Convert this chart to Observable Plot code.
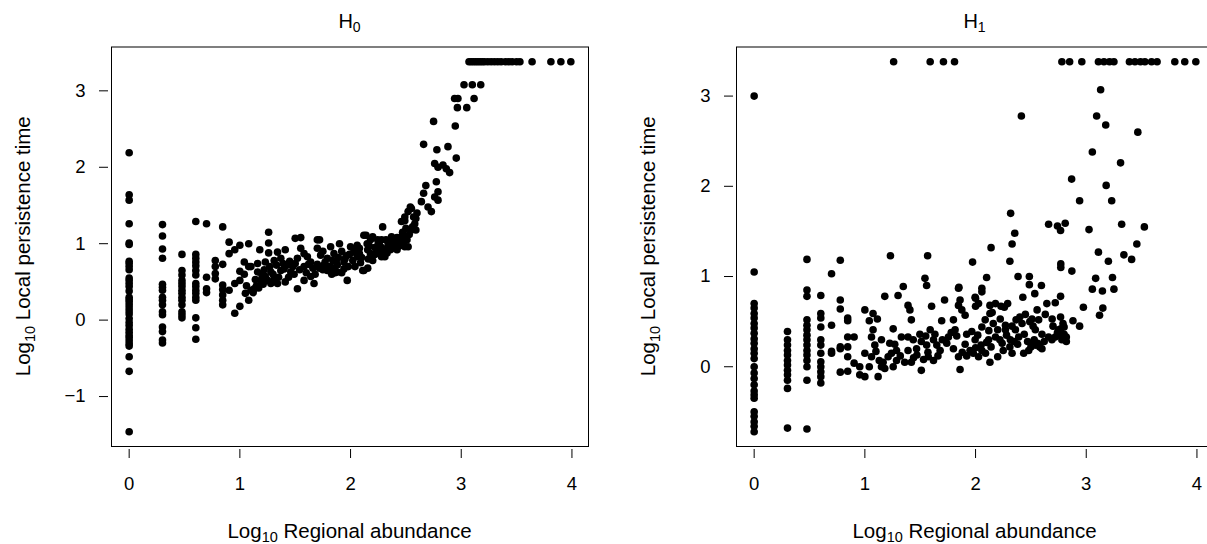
<!DOCTYPE html>
<html><head><meta charset="utf-8">
<script src="https://cdn.jsdelivr.net/npm/d3@7"></script>
<script src="https://cdn.jsdelivr.net/npm/@observablehq/plot@0.6"></script>
<style>
body{margin:0;background:#fff;overflow:hidden;width:1207px;height:544px;position:relative;font-family:"Liberation Sans",Arial,sans-serif}
.panel{position:absolute;top:0;width:600px;height:544px}
.panel svg{max-width:none !important;width:600px;height:544px}
</style></head><body>
<div id="left" class="panel" style="left:0"></div>
<div id="right" class="panel" style="left:625px"></div>
<script>
// H0 panel: [log10 regional abundance, log10 local persistence time]
const h0Points = [
  [0,2.19],[0,1.64],[0,1.57],[0,1.26],[0,1.01],[0,0.99],[0,0.77],[0,0.74],[0,0.70],[0,0.66],[0,0.55],[0,0.52],[0,0.48],[0,0.44],[0,0.38],[0,0.30],[0,0.27],[0,0.24],[0,0.20],[0,0.16],[0,0.12],[0,0.08],[0,0.02],[0,-0.03],[0,-0.07],[0,-0.12],[0,-0.16],[0,-0.20],[0,-0.23],[0,-0.27],[0,-0.31],[0,-0.34],[0,-0.48],[0,-0.67],[0,-1.46],
  [0.301,1.25],[0.301,1.10],[0.301,0.93],[0.301,0.81],[0.301,0.47],[0.301,0.43],[0.301,0.39],[0.301,0.30],[0.301,0.26],[0.301,0.20],[0.301,0.11],[0.301,0.07],[0.301,-0.09],[0.301,-0.15],[0.301,-0.26],[0.301,-0.30],
  [0.477,0.86],[0.477,0.65],[0.477,0.59],[0.477,0.52],[0.477,0.48],[0.477,0.44],[0.477,0.39],[0.477,0.35],[0.477,0.30],[0.477,0.26],[0.477,0.20],[0.477,0.11],[0.477,0.07],[0.477,0.03],
  [0.602,1.29],[0.602,0.86],[0.602,0.81],[0.602,0.76],[0.602,0.71],[0.602,0.65],[0.602,0.59],[0.602,0.48],[0.602,0.44],[0.602,0.39],[0.602,0.35],[0.602,0.30],[0.602,0.26],[0.602,0.03],[0.602,-0.10],[0.602,-0.25],
  [0.699,1.26],[0.699,0.56],[0.699,0.41],[0.699,0.36],
  [0.778,0.78],[0.778,0.70],[0.778,0.61],[0.778,0.54],
  [0.845,1.22],[0.845,0.73],[0.845,0.46],[0.845,0.40],[0.845,0.33],[0.845,0.26],[0.845,0.20],
  [0.903,1.02],[0.903,0.87],[0.903,0.39],[0.954,0.92],[0.954,0.48],[0.954,0.09],[1.0,0.98],[1.0,0.52],[1.0,0.18],[1.0,0.64],
  [1.04,0.60],[1.04,0.76],[1.08,1.00],[1.08,0.26],[1.08,0.70],[1.10,0.39],[1.10,0.70],[1.13,0.41],[1.16,0.63],[1.16,0.74],[1.18,0.92],[1.19,0.52],[1.20,0.59],[1.23,0.76],[1.23,0.57],[1.26,1.15],[1.26,1.01],[1.26,0.88],[1.28,0.48],[1.28,0.63],[1.31,0.78],[1.34,0.89],[1.34,0.48],[1.37,0.81],[1.37,0.65],[1.41,0.92],[1.41,0.50],[1.43,0.72],[1.46,0.63],[1.50,1.07],[1.50,0.74],[1.52,0.81],[1.52,0.41],[1.55,1.08],[1.55,0.94],[1.58,0.87],[1.58,0.70],[1.58,0.52],[1.61,0.83],[1.64,0.76],[1.64,0.57],[1.67,0.48],[1.70,1.05],[1.70,0.94],[1.72,1.05],[1.73,0.85],[1.76,0.72],[1.79,0.81],[1.79,0.65],[1.79,0.70],[1.82,0.96],[1.82,0.70],[1.85,0.87],[1.85,0.67],[1.88,0.63],[1.88,0.72],[1.90,1.00],[1.94,0.76],[1.94,0.67],[1.97,0.52],[2.00,0.96],[2.02,0.78],[2.06,0.98],[2.06,0.83],[2.08,0.87],[2.11,0.65],[2.12,1.11],[2.12,0.65],[2.14,1.11],[2.155,0.92],[2.155,0.68],[2.18,0.87],[2.20,1.09],[2.245,1.05],[2.245,0.92],[2.28,1.05],[2.28,0.83],[2.29,1.22],[2.31,0.83],[2.34,0.96],[2.34,1.00],[2.37,1.09],[2.40,1.00],[2.43,1.00],[2.46,1.29],[2.46,1.09],[2.49,1.30],[2.49,1.09],[2.49,0.96],[2.49,1.35],[2.52,1.42],[2.52,0.96],[2.54,1.48],[2.55,1.46],[2.55,1.18],[2.58,1.26],[2.59,1.33],[2.59,1.18],
  [1.92,0.90],[1.96,0.84],[2.03,0.92],[2.09,0.75],[2.16,0.80],[2.22,0.95],[2.26,0.99],[2.32,1.05],[2.36,0.92],[2.42,1.08],[2.45,1.05],[2.48,1.03],[2.38,0.98],[2.30,0.90],[2.22,0.86],[1.86,0.62],[1.83,0.60],[1.92,0.62],[1.98,0.70],[2.04,0.70],[1.75,0.66],[1.68,0.60],[1.62,0.73],[1.48,0.70],[1.44,0.56],[1.40,0.67],[1.33,0.72],[1.30,0.60],[1.27,0.70],[1.22,0.66],[1.14,0.53],[1.12,0.36],[1.06,0.45],[1.05,0.35],[1.70,0.73],[1.75,0.90],[1.87,0.77],[1.99,0.86],[2.08,0.94],[2.17,0.97],[2.40,0.94],[2.44,0.97],
  [2.05,0.88],[2.10,0.82],[2.15,1.00],[2.20,0.78],[2.25,0.88],[2.28,0.95],[2.33,0.88],[2.36,1.02],[2.39,1.05],[2.42,0.92],[2.47,0.99],[2.51,1.05],[2.53,1.12],[2.56,1.22],[2.57,1.35],[2.60,1.40],[2.50,1.20],[2.47,1.15],[2.25,1.00],[2.18,1.05],[1.95,0.80],[1.89,0.82],[1.84,0.78],[1.77,0.76],[1.72,0.68],[1.66,0.68],[1.60,0.62],[1.54,0.66],[1.49,0.60],[1.45,0.77],[1.39,0.74],[1.35,0.56],[1.31,0.54],[1.25,0.52],[1.21,0.47],[1.17,0.42],[1.15,0.45],
  [2.64,1.55],[2.66,2.30],[2.66,1.66],[2.68,1.76],[2.70,1.48],[2.73,1.42],[2.75,2.60],[2.76,2.05],[2.76,1.61],[2.775,1.81],[2.78,2.23],[2.79,2.00],[2.79,1.68],[2.79,1.57],[2.835,2.03],[2.865,1.98],[2.88,2.27],[2.895,1.93],[2.94,2.90],[2.946,2.54],[2.955,2.12],[2.965,2.78],[2.97,2.90],[3.025,3.08],[3.05,2.78],[3.10,3.08],[3.116,2.90],[3.176,3.08],
  [3.07,3.38],[3.09,3.38],[3.11,3.38],[3.13,3.38],[3.15,3.38],[3.17,3.38],[3.19,3.38],[3.21,3.38],[3.24,3.38],[3.27,3.38],[3.30,3.38],[3.33,3.38],[3.36,3.38],[3.40,3.38],[3.43,3.38],[3.46,3.38],[3.50,3.38],[3.53,3.38],[3.64,3.38],[3.81,3.38],[3.90,3.38],[3.99,3.38]
];

// H1 panel
const h1Points = [
  [0,3.00],[0,1.05],[0,0.70],[0,0.65],[0,0.59],[0,0.54],[0,0.48],[0,0.43],[0,0.37],[0,0.31],[0,0.26],[0,0.20],[0,0.15],[0,0.09],[0,0.00],[0,-0.07],[0,-0.13],[0,-0.20],[0,-0.27],[0,-0.31],[0,-0.35],[0,-0.50],[0,-0.55],[0,-0.61],[0,-0.66],[0,-0.72],
  [0.301,0.39],[0.301,0.30],[0.301,0.24],[0.301,0.18],[0.301,0.13],[0.301,0.07],[0.301,0.02],[0.301,-0.04],[0.301,-0.09],[0.301,-0.15],[0.301,-0.24],[0.301,-0.68],
  [0.477,1.19],[0.477,0.85],[0.477,0.78],[0.477,0.52],[0.477,0.46],[0.477,0.41],[0.477,0.35],[0.477,0.30],[0.477,0.24],[0.477,0.18],[0.477,0.13],[0.477,0.07],[0.477,0.00],[0.477,-0.15],[0.477,-0.69],
  [0.602,0.79],[0.602,0.59],[0.602,0.54],[0.602,0.44],[0.602,0.30],[0.602,0.24],[0.602,0.15],[0.602,0.055],[0.602,0.0],[0.602,-0.055],[0.602,-0.11],[0.602,-0.18],
  [0.699,1.03],[0.699,0.46],[0.699,0.17],[0.699,0.15],
  [0.778,1.18],[0.778,0.74],[0.778,0.64],[0.778,0.20],[0.778,0.22],[0.778,-0.06],
  [0.845,0.54],[0.845,0.51],[0.845,0.33],[0.845,0.22],[0.845,0.11],[0.845,-0.05],
  [0.903,0.33],[0.903,0.04],[0.954,0.0],[0.954,-0.09],[1.0,-0.11],[1.0,0.63],[1.0,0.15],
  [1.231,1.23],[1.567,1.23],[1.074,0.59],[1.04,0.51],[1.113,0.53],[1.074,0.41],[1.06,0.33],[1.06,0.11],[1.04,0.0],[1.12,-0.11],[1.15,0.0],[1.165,0.05],[1.18,0.78],[1.30,0.79],[1.347,0.89],[1.256,0.42],[1.15,0.30],[1.225,0.26],[1.286,0.18],[1.33,0.33],[1.21,0.11],[1.286,0.07],[1.36,0.05],[1.18,-0.02],[1.256,0.0],[1.39,0.68],[1.407,0.63],[1.42,0.52],[1.39,0.33],[1.437,0.30],[1.39,0.18],[1.467,0.20],[1.42,0.05],[1.497,0.36],[1.543,0.98],[1.558,0.90],[1.51,0.28],[1.558,0.24],[1.573,0.11],[1.51,-0.04],[1.603,0.67],[1.59,0.41],[1.633,0.36],[1.65,0.24],[1.62,0.07],[1.68,0.18],[1.72,0.74],[1.694,0.51],[1.755,0.33],[1.80,0.52],[1.815,0.41],[1.83,0.34],[1.86,0.74],[1.846,0.87],[1.846,0.68],[1.876,0.63],[1.906,0.57],[1.80,0.20],[1.846,0.11],[1.86,-0.03],[1.906,0.25],[1.973,1.16],[1.996,0.77],[2.027,0.70],[2.057,0.44],[1.966,0.39],[1.996,0.30],[2.087,0.52],[2.13,0.59],[2.118,0.30],[2.057,0.18],[1.98,0.15],[2.027,0.11],[2.09,0.15],[2.13,0.05],[2.18,0.70],[2.223,0.53],[2.27,0.46],[2.18,0.33],[2.24,0.26],[2.20,0.11],[2.29,0.70],[2.366,0.52],[2.42,0.48],[2.51,0.53],[2.556,0.63],[2.692,0.53],[2.768,0.55],[2.80,0.44],[2.75,0.41],[2.72,0.33],[2.82,0.28],[2.69,0.30],[2.66,0.33],[2.60,0.20],[2.54,0.24],[2.48,0.18],[2.51,0.25],[2.435,0.15],[2.36,0.41],[2.314,0.30],[2.33,0.15],[2.25,0.18],[2.60,0.36],[2.54,0.41],[2.44,0.36],[2.39,0.33],[2.27,0.41],[2.20,0.41],
  [2.47,0.28],[2.50,0.22],[2.53,0.30],[2.56,0.26],[2.58,0.22],[2.62,0.28],[2.76,0.35],[2.78,0.30],[2.74,0.38],[2.80,0.36],[2.79,0.48],[2.77,0.42],[2.82,0.33],[2.70,0.45],[2.35,0.28],[2.31,0.22],[2.38,0.25],[2.28,0.35],[2.22,0.30],[2.14,0.22],[2.10,0.27],[2.05,0.24],[2.00,0.21],[1.95,0.18],[1.92,0.12],[1.88,0.16],[1.74,0.26],[1.70,0.30],[1.66,0.12],[1.57,0.16],[1.53,0.08],[1.47,0.13],[1.44,0.10],[1.32,0.12],[1.27,0.25],[1.24,0.15],[1.10,0.17],[1.09,0.24],[1.13,0.07],[1.55,0.34],[1.62,0.30],[1.78,0.38],[1.92,0.36],[2.02,0.35],[2.12,0.40],[2.16,0.48],[2.33,0.45],[2.40,0.55],[2.45,0.58],[2.49,0.50],[2.52,0.45],[2.57,0.52],[2.63,0.58],
  [3.13,3.07],[2.414,2.78],[3.094,2.78],[3.176,2.68],[3.466,2.60],[3.055,2.38],[3.31,2.26],[2.868,2.08],[3.18,2.01],[2.94,1.84],[3.23,1.84],[2.317,1.70],[2.66,1.58],[2.74,1.56],[2.768,1.51],[2.81,1.59],[3.025,1.52],[3.32,1.58],[3.525,1.55],[2.354,1.48],[2.33,1.36],[2.14,1.32],[3.457,1.36],[2.31,1.17],[3.11,1.27],[3.20,1.17],[3.34,1.24],[3.41,1.19],[2.77,1.14],[2.77,1.10],[2.87,1.06],[3.237,0.99],[3.085,0.98],[3.055,0.86],[3.146,0.84],[3.25,0.86],[2.974,0.66],[3.15,0.65],[3.12,0.57],[2.88,0.51],[2.94,0.45],[2.486,1.00],[2.486,0.91],[2.384,1.00],[2.595,0.90],[2.427,0.77],[2.535,0.81],[2.768,0.78],[2.72,0.71],[2.644,0.70],[2.10,0.99],[2.057,0.87],[2.057,0.83],[2.0,0.76],[2.0,0.67],[1.85,0.88],[2.13,0.68],[2.23,0.67],[2.26,0.66],[2.15,0.60],
  [1.26,3.38],[1.59,3.38],[1.71,3.38],[1.81,3.38],[2.78,3.38],[2.85,3.38],[2.96,3.38],[3.11,3.38],[3.16,3.38],[3.21,3.38],[3.25,3.38],[3.39,3.38],[3.44,3.38],[3.49,3.38],[3.53,3.38],[3.59,3.38],[3.64,3.38],[3.80,3.38],[3.89,3.38],[3.99,3.38]
];

const xTicks = [0, 1, 2, 3, 4];
const h0YTicks = [-1, 0, 1, 2, 3];
const h1YTicks = [0, 1, 2, 3];
const titleSubs = ["0", "1"];

// R-style axis range: data extent extended by 4% on each side
function rRange(vals) {
  const [a, b] = d3.extent(vals);
  const e = (b - a) * 0.04;
  return [a - e, b + e];
}

const FONT = "Liberation Sans, Arial, Helvetica, sans-serif";
const fmt = d3.format("d");

function panel(points, yTicks, sub) {
  const svg = Plot.plot({
    width: 600, height: 544,
    marginLeft: 111, marginRight: 12, marginTop: 46.5, marginBottom: 98,
    style: {fontFamily: FONT, fontSize: "18.5px", color: "#000", background: "transparent", overflow: "visible", maxWidth: "none"},
    x: {domain: rRange(points.map(d => d[0]))},
    y: {domain: rRange(points.map(d => d[1]))},
    marks: [
      Plot.frame({stroke: "#000", strokeWidth: 1}),
      Plot.axisX(xTicks, {tickSize: 9, dy: 3, tickPadding: 18, label: null, fontSize: 18.5, tickFormat: fmt}),
      Plot.axisY(yTicks, {tickSize: 9, dx: -3, tickPadding: 14, label: null, fontSize: 18.5, tickFormat: fmt}),
      Plot.dot(points, {x: d => d[0], y: d => d[1], r: 3.8, fill: "#000", stroke: "none"})
    ]
  });
  const s = d3.select(svg);
  const cx = 111 + (600 - 111 - 12) / 2;
  // title
  const t = s.append("text").attr("x", cx).attr("y", 28).attr("text-anchor", "middle")
    .attr("font-family", FONT).attr("font-size", 20).attr("fill", "#000");
  t.append("tspan").text("H");
  t.append("tspan").attr("font-size", 14).attr("dy", 4).text(sub);
  // x label
  const xl = s.append("text").attr("x", cx).attr("y", 537.5).attr("text-anchor", "middle")
    .attr("font-family", FONT).attr("font-size", 20.5).attr("fill", "#000");
  xl.append("tspan").text("Log");
  xl.append("tspan").attr("font-size", 14.5).attr("dy", 4.5).text("10");
  xl.append("tspan").attr("dy", -4.5).text(" Regional abundance");
  // y label
  const cy = 46.5 + (544 - 46.5 - 98) / 2;
  const yl = s.append("text").attr("transform", `translate(30,${cy}) rotate(-90)`).attr("text-anchor", "middle")
    .attr("font-family", FONT).attr("font-size", 20.5).attr("fill", "#000");
  yl.append("tspan").text("Log");
  yl.append("tspan").attr("font-size", 14.5).attr("dy", 4.5).text("10");
  yl.append("tspan").attr("dy", -4.5).text(" Local persistence time");
  return svg;
}

document.getElementById("left").appendChild(panel(h0Points, h0YTicks, titleSubs[0]));
document.getElementById("right").appendChild(panel(h1Points, h1YTicks, titleSubs[1]));
</script>
</body></html>
